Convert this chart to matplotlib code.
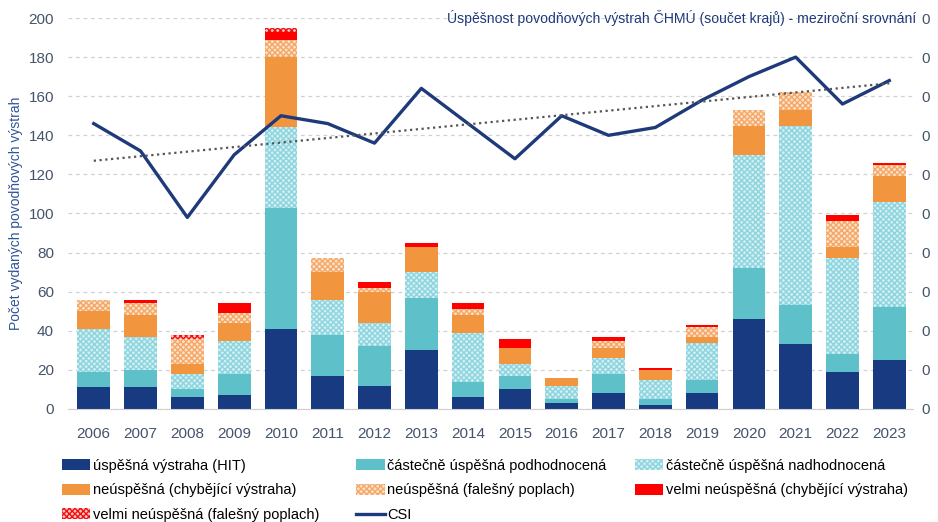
import matplotlib
matplotlib.use("Agg")
import matplotlib.pyplot as plt
import numpy as np
from matplotlib.patches import Patch
from matplotlib.lines import Line2D

plt.rcParams['font.family'] = ['Liberation Sans', 'DejaVu Sans']
plt.rcParams['hatch.linewidth'] = 1.0

years = ['2006', '2007', '2008', '2009', '2010', '2011', '2012', '2013', '2014',
         '2015', '2016', '2017', '2018', '2019', '2020', '2021', '2022', '2023']

# počty výstrah podle kategorie
hit           = [11, 11, 6, 7, 41, 17, 12, 30, 6, 10, 3, 8, 2, 8, 46, 33, 19, 25]
podhodnocena  = [8, 9, 4, 11, 62, 21, 20, 27, 8, 7, 2, 10, 3, 7, 26, 20, 9, 27]
nadhodnocena  = [22, 17, 8, 17, 41, 18, 12, 13, 25, 6, 7, 8, 10, 19, 58, 92, 49, 54]
chybejici     = [9, 11, 5, 9, 36, 14, 16, 13, 9, 8, 4, 5, 5, 3, 15, 8, 6, 13]
falesny       = [6, 6, 13, 5, 9, 7, 2, 0, 3, 0, 0, 4, 0, 5, 8, 9, 13, 6]
velmi_chyb    = [0, 2, 0, 5, 4, 0, 3, 2, 3, 5, 0, 2, 1, 1, 0, 0, 3, 1]
velmi_fal     = [0, 0, 2, 0, 2, 0, 0, 0, 0, 0, 0, 0, 0, 0, 0, 0, 0, 0]

csi = [0.73, 0.66, 0.49, 0.65, 0.75, 0.73, 0.68, 0.82, 0.73, 0.64,
       0.75, 0.70, 0.72, 0.79, 0.85, 0.90, 0.78, 0.84]

labels = ['úspěšná výstraha (HIT)', 'částečně úspěšná podhodnocená',
          'částečně úspěšná nadhodnocená', 'neúspěšná (chybějící výstraha)',
          'neúspěšná (falešný poplach)', 'velmi neúspěšná (chybějící výstraha)',
          'velmi neúspěšná (falešný poplach)']

# (facecolor, hatch color, hatch)
styles = [('#173A80', None, None),
          ('#5EC1C9', None, None),
          ('#D3EFF3', '#8CD4DE', 'xxxxxx'),
          ('#F1963F', None, None),
          ('#FCE2CB', '#F4A867', 'xxxxxx'),
          ('#FF0000', None, None),
          ('#FFC4C4', '#F01010', 'xxxxxx')]

navy = '#1F3A7A'
tick_col = '#44546A'

fig = plt.figure(figsize=(9.38, 5.22), dpi=100)
ax = fig.add_axes([0.0725, 0.2165, 0.9005, 0.749])

x = np.arange(len(years))
series = [hit, podhodnocena, nadhodnocena, chybejici, falesny, velmi_chyb, velmi_fal]
bottom = np.zeros(len(years))
handles = []
for vals, lab, (fc, hc, hatch) in zip(series, labels, styles):
    vals = np.array(vals, dtype=float)
    if hatch:
        ax.bar(x, vals, 0.7, bottom=bottom, color=fc, edgecolor=hc, hatch=hatch,
               linewidth=0, zorder=2)
        handles.append(Patch(facecolor=fc, edgecolor=hc, hatch=hatch, linewidth=0, label=lab))
    else:
        ax.bar(x, vals, 0.7, bottom=bottom, color=fc, linewidth=0, zorder=2)
        handles.append(Patch(facecolor=fc, linewidth=0, label=lab))
    bottom += vals

ax.set_xlim(-0.55, 17.5)
ax.set_ylim(0, 200)
ax.set_yticks(np.arange(0, 201, 20))
ax.set_xticks(x)
ax.set_xticklabels(years)
ax.tick_params(axis='y', labelsize=11, labelcolor=tick_col, length=0, pad=10)
ax.tick_params(axis='x', labelsize=11, labelcolor=tick_col, length=0, pad=13)
ax.grid(axis='y', color='#D0D0D0', linestyle=(0, (3, 3)), linewidth=0.9, zorder=0)
for s in ['top', 'right', 'left']:
    ax.spines[s].set_visible(False)
ax.spines['bottom'].set_color('#D0D0D0')
ax.set_ylabel('Počet vydaných povodňových výstrah', color='#2F5597', fontsize=10, labelpad=4)

ax2 = ax.twinx()
ax2.set_ylim(0, 1)
ax2.plot(x, csi, color=navy, linewidth=2.4, zorder=3)
coef = np.polyfit(x, csi, 1)
ax2.plot(x, np.polyval(coef, x), color='#555555', linestyle=(0, (1, 1.6)), linewidth=1.6, zorder=3)
ax2.set_yticks(np.arange(0, 1.01, 0.1))
ax2.set_yticklabels(['0'] * 11)
ax2.tick_params(axis='y', labelsize=11, labelcolor=tick_col, length=0, pad=6)
for s in ['top', 'right', 'left', 'bottom']:
    ax2.spines[s].set_visible(False)

fig.text(0.9765, 0.966, 'Úspěšnost povodňových výstrah ČHMÚ (součet krajů) - meziroční srovnání',
         color='#1F3A7A', fontsize=10.1, ha='right', va='center')

handles.append(Line2D([0], [0], color=navy, linewidth=2.4, label='CSI'))

# tři sloupce legendy, řádky zleva doprava
cols = [[0, 3, 6], [1, 4, 7], [2, 5]]
xpos = [0.066, 0.380, 0.677]
for idx, xp in zip(cols, xpos):
    fig.legend([handles[i] for i in idx], [handles[i].get_label() for i in idx],
               loc='upper left', bbox_to_anchor=(xp, 0.121), frameon=False,
               fontsize=10.5, handlelength=1.95, handleheight=0.8, handletextpad=0.15,
               labelspacing=0.72, borderaxespad=0, borderpad=0)

fig.savefig('out.png', dpi=100)
